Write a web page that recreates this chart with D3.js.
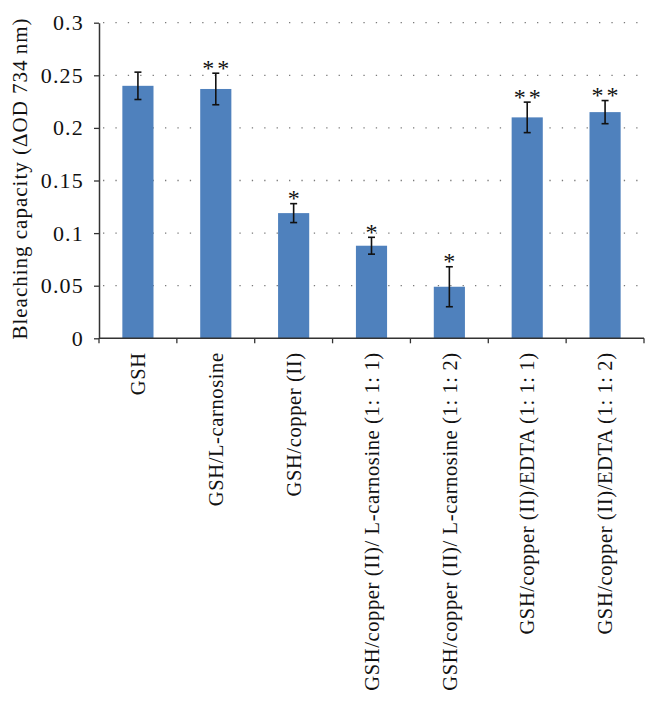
<!DOCTYPE html>
<html><head><meta charset="utf-8">
<script src="https://cdn.jsdelivr.net/npm/d3@7"></script>
<style>body{margin:0;background:#fff}svg{display:block}text{font-family:"Liberation Serif","Times New Roman",serif;fill:#111}</style>
</head><body>
<script>
const categories = ["GSH","GSH/L-carnosine","GSH/copper (II)","GSH/copper (II)/ L-carnosine (1: 1: 1)","GSH/copper (II)/ L-carnosine (1: 1: 2)","GSH/copper (II)/EDTA (1: 1: 1)","GSH/copper (II)/EDTA (1: 1: 2)"];
const values = [0.240, 0.237, 0.119, 0.088, 0.049, 0.210, 0.215];
const errors = [0.013, 0.015, 0.009, 0.008, 0.019, 0.0145, 0.011];
const stars = ["", "**", "*", "*", "*", "**", "**"];
const yTicks = [0, 0.05, 0.1, 0.15, 0.2, 0.25, 0.3];
const yTickLabels = ["0","0.05","0.1","0.15","0.2","0.25","0.3"];
const yTitle = "Bleaching capacity (\u0394OD 734\u2009nm)";

const W = 658, H = 704;
const m = {left: 99, right: 14, top: 22.7, bottom: 365.7};
const svg = d3.select("body").append("svg").attr("width", W).attr("height", H);
const x = d3.scaleBand().domain(categories).range([m.left, W - m.right]).paddingInner(0.6).paddingOuter(0.3);
const y = d3.scaleLinear().domain([0, 0.3]).range([H - m.bottom, m.top]);
const bw = (W - m.right - m.left) / categories.length;

// gridlines
svg.append("g").selectAll("line").data(yTicks.slice(1)).join("line")
  .attr("x1", m.left + 4).attr("x2", W - m.right)
  .attr("y1", d => y(d)).attr("y2", d => y(d))
  .attr("stroke", "#7a7a7a").attr("stroke-width", 1.3).attr("stroke-dasharray", "1.3,11.1");

// bars
svg.append("g").selectAll("rect").data(values).join("rect")
  .attr("x", (d, i) => x(categories[i])).attr("width", x.bandwidth())
  .attr("y", d => y(d)).attr("height", d => y(0) - y(d))
  .attr("fill", "#4f81bd");

// error bars
const eb = svg.append("g").attr("stroke", "#111").attr("stroke-width", 1.6);
values.forEach((v, i) => {
  const cx = x(categories[i]) + x.bandwidth() / 2;
  eb.append("line").attr("x1", cx).attr("x2", cx).attr("y1", y(v + errors[i])).attr("y2", y(v - errors[i]));
  [v + errors[i], v - errors[i]].forEach(e => eb.append("line").attr("x1", cx - 3.5).attr("x2", cx + 3.5).attr("y1", y(e)).attr("y2", y(e)));
});

// stars
svg.append("g").selectAll("text").data(values).join("text")
  .attr("x", (d, i) => x(categories[i]) + x.bandwidth() / 2)
  .attr("y", (d, i) => y(d + errors[i]) + 2.5)
  .attr("dx", 1.5)
  .attr("text-anchor", "middle").attr("font-size", 24).attr("letter-spacing", 3)
  .text((d, i) => stars[i]);

// y axis
const ya = svg.append("g").attr("transform", `translate(${m.left},0)`)
  .call(d3.axisLeft(y).tickValues(yTicks).tickFormat((d, i) => yTickLabels[i]).tickSize(5).tickSizeOuter(0));
ya.select(".domain").attr("stroke", "#333").attr("stroke-width", 1.5);
ya.selectAll(".tick line").attr("stroke", "#333").attr("stroke-width", 1.3);
ya.selectAll(".tick text").attr("font-size", 22).attr("fill", "#111").attr("x", -15).attr("letter-spacing", 1.2);

// x axis
const xa = svg.append("g").attr("transform", `translate(0,${y(0)})`);
xa.append("line").attr("x1", m.left).attr("x2", W - m.right).attr("stroke", "#333").attr("stroke-width", 1.5);
xa.selectAll(".tk").data(d3.range(categories.length + 1)).join("line")
  .attr("x1", i => m.left + i * bw).attr("x2", i => m.left + i * bw)
  .attr("y1", 0).attr("y2", 5).attr("stroke", "#333").attr("stroke-width", 1.3);
xa.selectAll("text").data(categories).join("text")
  .attr("transform", d => `translate(${x(d) + x.bandwidth() / 2},14) rotate(-90)`)
  .attr("text-anchor", "end").attr("dy", "0.35em").attr("font-size", 20.5).attr("letter-spacing", 0.62)
  .text(d => d);

// y title
svg.append("text").attr("transform", `translate(20,${(m.top + y(0)) / 2 - 2}) rotate(-90)`)
  .attr("text-anchor", "middle").attr("dy", "0.35em").attr("font-size", 21).attr("letter-spacing", 1)
  .text(yTitle);
</script>
</body></html>
